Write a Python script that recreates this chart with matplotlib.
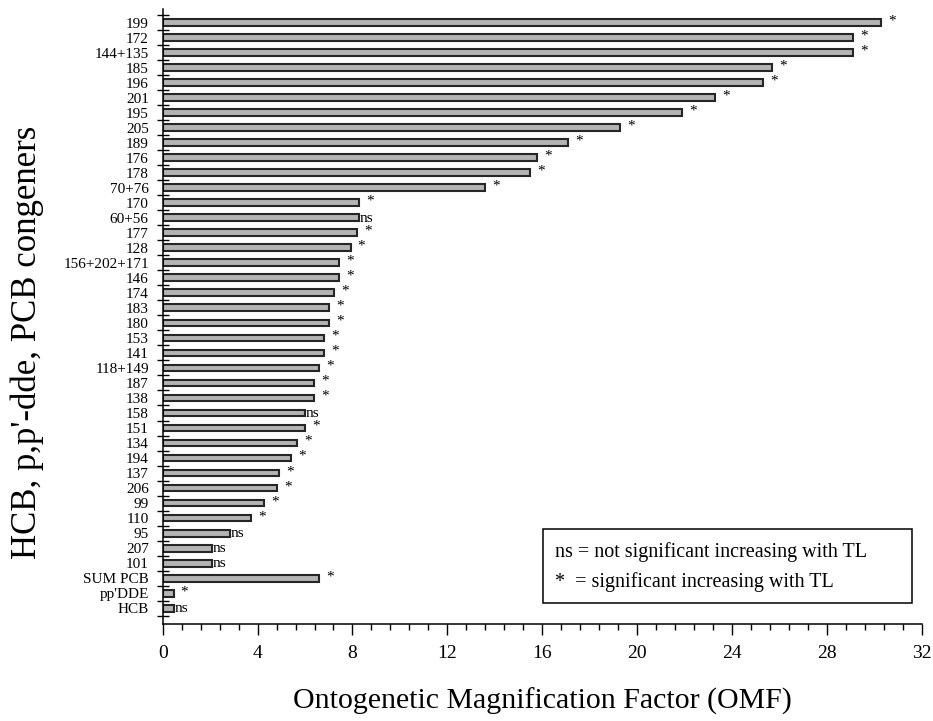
import numpy as np
import matplotlib
matplotlib.use("Agg")
import matplotlib.pyplot as plt
from matplotlib.patches import Rectangle
from matplotlib.ticker import MultipleLocator, FixedLocator, NullFormatter

plt.rcParams['font.family'] = ['Liberation Serif', 'DejaVu Serif']

categories = ["199", "172", "144+135", "185", "196", "201", "195", "205", "189", "176",
              "178", "70+76", "170", "60+56", "177", "128", "156+202+171", "146", "174", "183",
              "180", "153", "141", "118+149", "187", "138", "158", "151", "134", "194",
              "137", "206", "99", "110", "95", "207", "101", "SUM PCB", "pp'DDE", "HCB"]
omf = [30.3, 29.1, 29.1, 25.7, 25.3, 23.3, 21.9, 19.3, 17.1, 15.8,
       15.5, 13.6, 8.28, 8.28, 8.21, 7.92, 7.43, 7.43, 7.21, 7.01,
       7.01, 6.79, 6.79, 6.58, 6.37, 6.37, 6.01, 6.01, 5.68, 5.40,
       4.90, 4.83, 4.27, 3.71, 2.85, 2.08, 2.08, 6.58, 0.46, 0.46]
significance = ["*", "*", "*", "*", "*", "*", "*", "*", "*", "*",
                "*", "*", "*", "ns", "*", "*", "*", "*", "*", "*",
                "*", "*", "*", "*", "*", "*", "ns", "*", "*", "*",
                "*", "*", "*", "*", "ns", "ns", "ns", "*", "*", "ns"]
xticks = [0, 4, 8, 12, 16, 20, 24, 28, 32]
legend_lines = ["ns = not significant increasing with TL",
                "*  = significant increasing with TL"]

W, H = 933, 721
fig = plt.figure(figsize=(W / 100, H / 100), dpi=100)
ax = fig.add_axes([162.7 / W, 97 / H, (921.7 - 162.7) / W, (624 - 9.3) / H])

n = len(categories)
ypos = np.arange(n)[::-1]
ax.barh(ypos, omf, height=0.45, color='#b4b4b4', edgecolor='#262626', linewidth=1.5, zorder=2)

for y, v, s in zip(ypos, omf, significance):
    if s == "*":
        ax.text(v + 0.3, y + 0.1, "*", fontsize=11, ha='left', va='center', color='black')
    else:
        ax.text(v + 0.03, y - 0.02, "ns", fontsize=11, ha='left', va='center', color='black')

ax.set_xlim(0, 32)
ax.set_ylim(-1.05, 39.88)

ax.set_xticks(xticks)
ax.set_xticklabels([str(t) for t in xticks], fontsize=14)
ax.xaxis.set_minor_locator(MultipleLocator(0.8))
ax.tick_params(axis='x', which='major', direction='out', length=8, width=1, pad=7, colors='black')
ax.tick_params(axis='x', which='minor', direction='out', length=4.3, width=1)

ax.yaxis.set_major_locator(FixedLocator(np.arange(n + 1) - 0.5))
ax.yaxis.set_major_formatter(NullFormatter())
ax.set_yticks(ypos, minor=True)
ax.set_yticklabels(categories, minor=True, fontsize=11)
ax.tick_params(axis='y', which='major', direction='inout', length=8, width=1)
ax.tick_params(axis='y', which='minor', length=0, pad=10)

for side in ['top', 'right']:
    ax.spines[side].set_visible(False)
for side in ['left', 'bottom']:
    ax.spines[side].set_linewidth(1.1)
    ax.spines[side].set_color('black')

fig.text(542 / W, 1 - 701 / H, "Ontogenetic Magnification Factor (OMF)", fontsize=21.5,
         ha='center', va='center')
fig.text(27 / W, 1 - 342 / H, "HCB, p,p'-dde, PCB congeners", fontsize=25,
         ha='center', va='center', rotation=90)

# legend box
fig.patches.append(Rectangle((542.7 / W, 1 - 603 / H), (911.7 - 542.7) / W, (603 - 529) / H,
                             transform=fig.transFigure, facecolor='white', edgecolor='black',
                             linewidth=1.1, zorder=5))
fig.text(555 / W, 1 - 552 / H, legend_lines[0], fontsize=14.5, ha='left', va='center', zorder=6)
fig.text(555 / W, 1 - 582 / H, legend_lines[1], fontsize=14.5, ha='left', va='center', zorder=6)

fig.savefig("out.png", dpi=100)
